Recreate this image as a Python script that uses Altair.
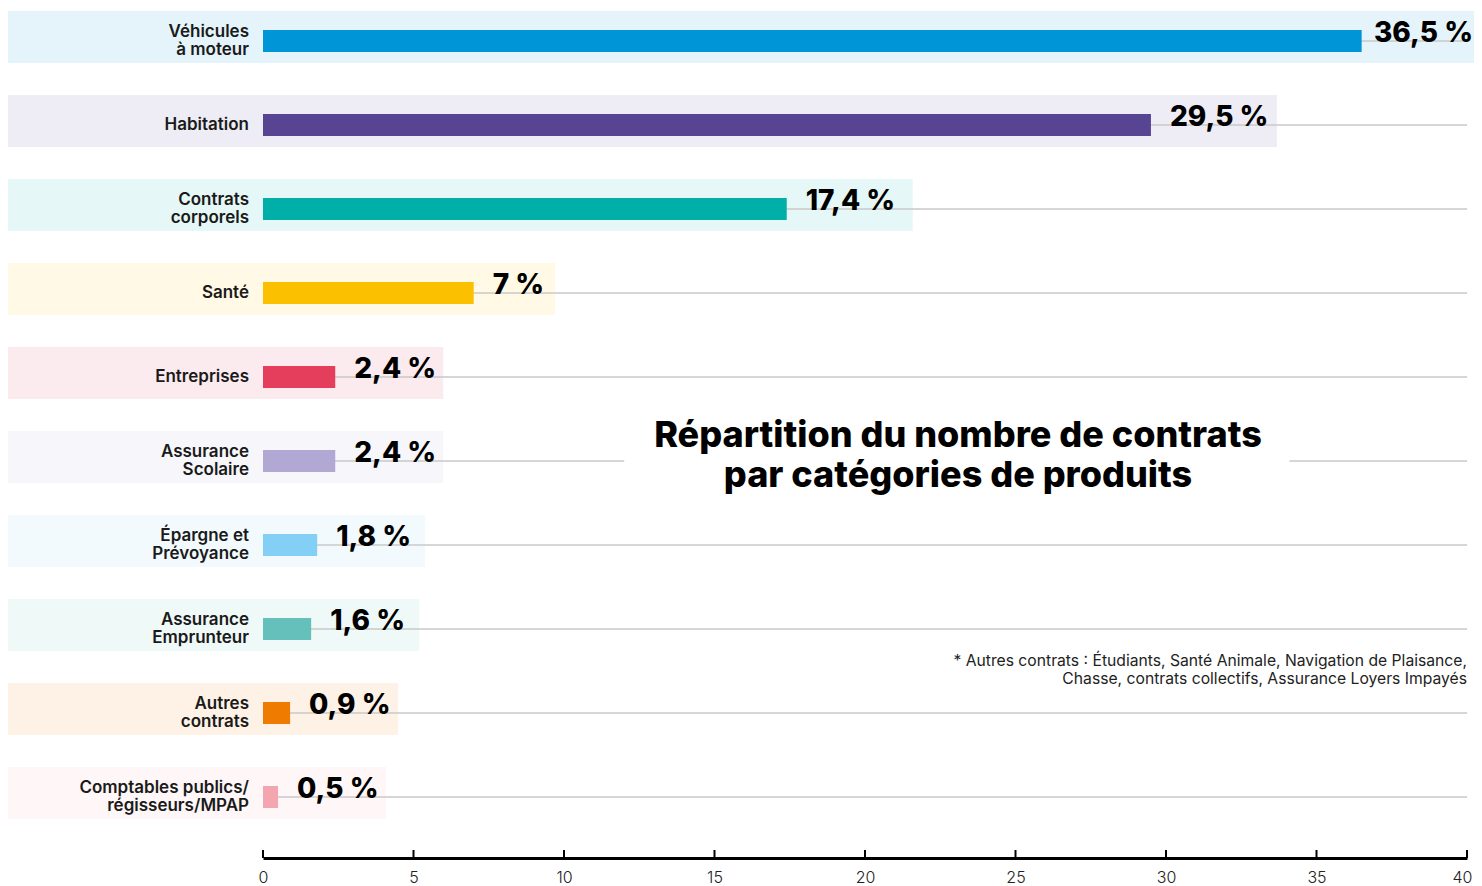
import altair as alt
import pandas as pd

categories = ["Véhicules\nà moteur", "Habitation", "Contrats\ncorporels", "Santé", "Entreprises",
              "Assurance\nScolaire", "Épargne et\nPrévoyance", "Assurance\nEmprunteur",
              "Autres\ncontrats", "Comptables publics/\nrégisseurs/MPAP"]
values = [36.5, 29.5, 17.4, 7, 2.4, 2.4, 1.8, 1.6, 0.9, 0.5]
value_labels = ["36,5 %", "29,5 %", "17,4 %", "7 %", "2,4 %", "2,4 %", "1,8 %", "1,6 %", "0,9 %", "0,5 %"]
colors = ["#0095D6", "#574593", "#00AFA8", "#FBC000", "#E53D5C",
          "#B1A8D3", "#83CFF5", "#65C0BB", "#EF7C00", "#F3A6AF"]
x_ticks = [0, 5, 10, 15, 20, 25, 30, 35, 40]

title_lines = ["Répartition du nombre de contrats", "par catégories de produits"]
footnote_lines = ["* Autres contrats : Étudiants, Santé Animale, Navigation de Plaisance,",
                  "Chasse, contrats collectifs, Assurance Loyers Impayés"]

FONT = "Inter"
W, H = 1204, 850
X_MAX = 40
PX = W / X_MAX
VAL_FS = 28
LEFT_PAD = 255
RIGHT_PAD = 7
CAT_LH = 17.5
VAL_DX = 19


def est_width(s, fs=30):
    w = 0
    for ch in s:
        if ch.isdigit():
            w += 0.6 * fs
        elif ch == ",":
            w += 0.28 * fs
        elif ch == " ":
            w += 0.27 * fs
        elif ch == "%":
            w += 0.85 * fs
        else:
            w += 0.6 * fs
    return w


band_start = -LEFT_PAD / PX - 0.1
band_end = [min((v * PX + VAL_DX + est_width(l) + 11) / PX, X_MAX + RIGHT_PAD / PX)
            for v, l in zip(values, value_labels)]
# labels that would run past the right edge are pulled in just enough to stay visible
fits = [(v * PX + VAL_DX + est_width(l, VAL_FS) * 1.1) <= W + RIGHT_PAD - 1
        for v, l in zip(values, value_labels)]

df = pd.DataFrame({
    "cat": categories,
    "nlines": [c.count("\n") + 1 for c in categories],
    "idx": list(range(len(categories))),
    "value": values,
    "label": value_labels,
    "fits": fits,
    "band_start": [band_start] * len(categories),
    "band_end": band_end,
    "zero": [0] * len(categories),
    "xmax": [X_MAX] * len(categories),
})
ticks_df = pd.DataFrame({"t": x_ticks})

x_scale = alt.Scale(domain=[0, X_MAX], nice=False, zero=False, padding=0)
y_scale = alt.Scale(domain=[-0.393, 9.726], reverse=True, nice=False, zero=False, padding=0)
color_scale = alt.Scale(domain=categories, range=colors)

base = alt.Chart(df)

bands = base.mark_bar(orient="horizontal", size=52, opacity=0.1, yOffset=-4).encode(
    x=alt.X("band_start:Q", scale=x_scale,
            axis=alt.Axis(values=x_ticks, title=None, grid=False, ticks=False,
                          domain=True, domainColor="#000000", domainWidth=3,
                          labelFontSize=16, labelPadding=11, labelColor="#222222",
                          labelFont=FONT, labelFontWeight=300,
                          labelFlush=True, labelFlushOffset=5)),
    x2="band_end:Q",
    y=alt.Y("idx:Q", scale=y_scale, axis=None),
    color=alt.Color("cat:N", scale=color_scale, legend=None),
)

grid = base.mark_rule(color="#C8C8C8", strokeWidth=1.5).encode(
    x="zero:Q", x2="xmax:Q", y="idx:Q")

title_box = alt.Chart(pd.DataFrame({"a": [0]})).mark_rect(color="white").encode(
    x=alt.datum(12.0), x2=alt.datum(34.1), y=alt.datum(4.85), y2=alt.datum(5.15))

bars = base.mark_bar(orient="horizontal", size=22).encode(
    x="zero:Q", x2="value:Q", y="idx:Q",
    color=alt.Color("cat:N", scale=color_scale, legend=None))

val_style = dict(baseline="alphabetic", dy=1, font=FONT, fontSize=VAL_FS,
                 fontWeight=800, color="#000000")
val_text = base.transform_filter("datum.fits").mark_text(
    align="left", dx=VAL_DX, **val_style).encode(
    x="value:Q", y="idx:Q", text="label:N")
val_text_edge = base.transform_filter("!datum.fits").mark_text(
    align="right", dx=RIGHT_PAD - 1, **val_style).encode(
    x="xmax:Q", y="idx:Q", text="label:N")

cat_style = dict(align="right", baseline="middle", dx=-14, lineBreak="\n",
                 lineHeight=CAT_LH, font=FONT, fontSize=17, fontWeight=600, color="#1A1A1A")
cat_text1 = base.transform_filter("datum.nlines == 1").mark_text(**cat_style).encode(
    x="zero:Q", y="idx:Q", text="cat:N")
cat_text2 = base.transform_filter("datum.nlines == 2").mark_text(
    dy=-CAT_LH / 2, **cat_style).encode(
    x="zero:Q", y="idx:Q", text="cat:N")

title = alt.Chart(pd.DataFrame({"t": ["\n".join(title_lines)]})).mark_text(
    align="center", baseline="middle", lineBreak="\n", lineHeight=40,
    font=FONT, fontSize=36, fontWeight=800, color="#000000").encode(
    x=alt.datum(23.09), y=alt.datum(4.70), text="t:N")

footnote = alt.Chart(pd.DataFrame({"t": ["\n".join(footnote_lines)]})).mark_text(
    align="right", baseline="middle", lineBreak="\n", lineHeight=18,
    font=FONT, fontSize=15.7, fontWeight=400, color="#222222").encode(
    x=alt.datum(40), y=alt.datum(7.38), text="t:N")

tick_rules = alt.Chart(ticks_df).mark_rule(color="#000000", strokeWidth=2).encode(
    x="t:Q", y=alt.value(H), y2=alt.value(H - 8))

chart = alt.layer(bands, grid, title_box, bars, val_text, val_text_edge, cat_text1,
                  cat_text2, title, footnote, tick_rules).properties(
    width=W, height=H,
    autosize=alt.AutoSizeParams(type="none"),
    padding={"left": LEFT_PAD, "right": RIGHT_PAD, "top": 0, "bottom": 28},
).configure_view(stroke=None)

chart.save("out.html", embed_options={"renderer": "svg", "actions": False})
